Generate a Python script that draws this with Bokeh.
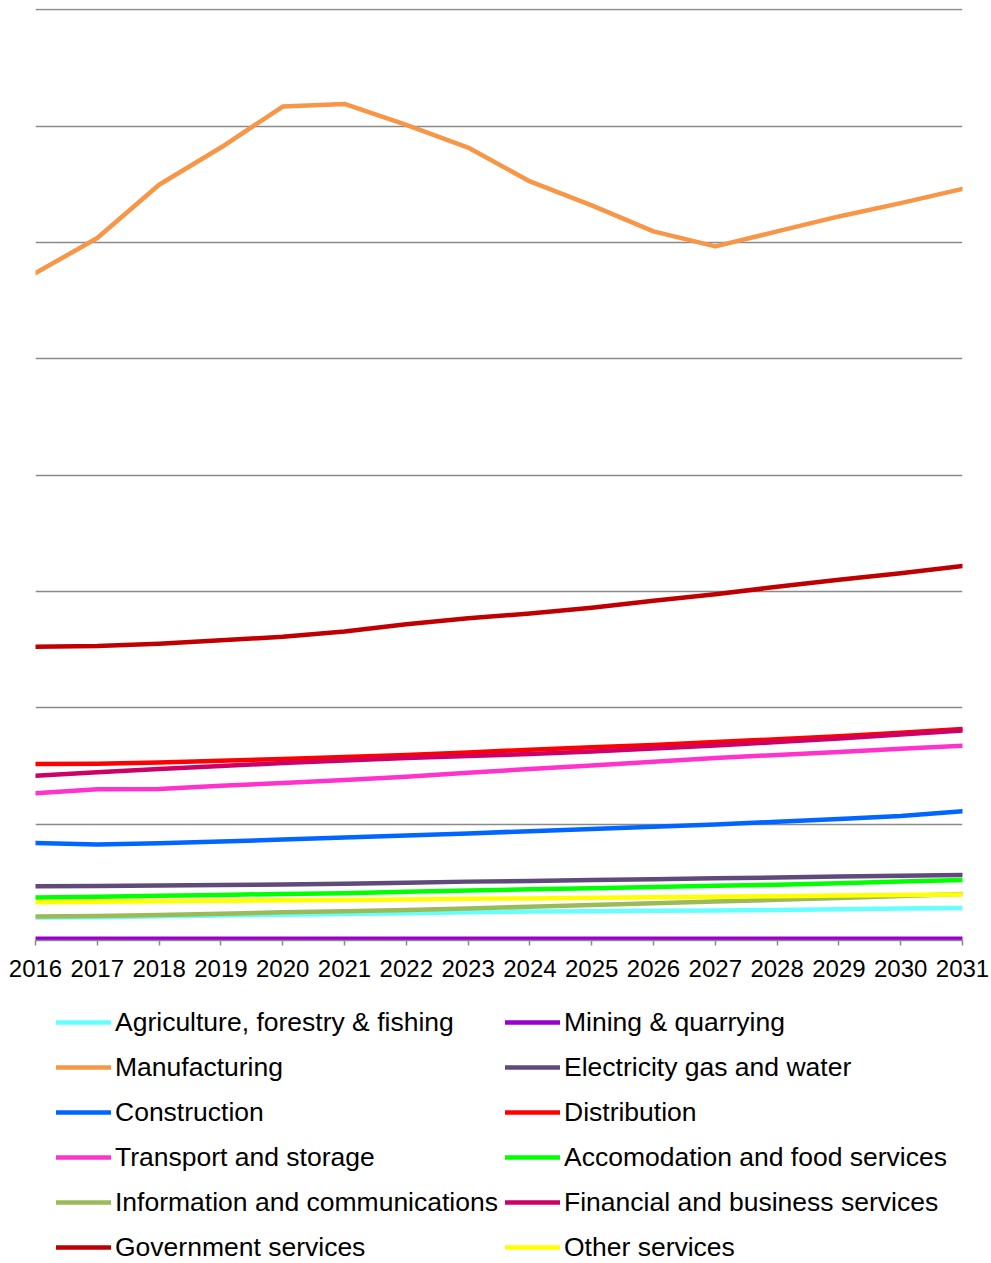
from bokeh.plotting import figure
from bokeh.layouts import column
from bokeh.models import Range1d, Legend, LegendItem, FixedTicker
from bokeh.embed import file_html
from bokeh.resources import INLINE

years = list(range(2016, 2032))

agriculture = [1.97, 2.0, 2.08, 2.15, 2.22, 2.28, 2.34, 2.42, 2.49, 2.52, 2.55, 2.58, 2.62, 2.68, 2.74, 2.8]
mining = [0.14, 0.15, 0.15, 0.15, 0.15, 0.14, 0.14, 0.14, 0.14, 0.14, 0.14, 0.14, 0.14, 0.14, 0.14, 0.14]
manufacturing = [57.36, 60.37, 64.95, 68.15, 71.67, 71.9, 70.1, 68.15, 65.24, 63.18, 60.94, 59.66, 60.94, 62.23, 63.37, 64.6]
electricity = [4.66, 4.68, 4.72, 4.77, 4.82, 4.88, 4.96, 5.06, 5.12, 5.2, 5.27, 5.34, 5.42, 5.5, 5.57, 5.64]
construction = [8.39, 8.24, 8.35, 8.5, 8.68, 8.85, 9.02, 9.2, 9.4, 9.58, 9.78, 9.98, 10.2, 10.45, 10.7, 11.1]
distribution = [15.17, 15.19, 15.3, 15.45, 15.6, 15.77, 15.95, 16.15, 16.4, 16.6, 16.8, 17.05, 17.3, 17.55, 17.85, 18.17]
transport = [12.65, 13.0, 13.02, 13.3, 13.54, 13.8, 14.08, 14.42, 14.74, 15.05, 15.37, 15.68, 15.95, 16.2, 16.47, 16.74]
accommodation = [3.69, 3.76, 3.84, 3.92, 4.0, 4.07, 4.18, 4.29, 4.4, 4.5, 4.6, 4.7, 4.8, 4.93, 5.07, 5.21]
information = [2.06, 2.1, 2.2, 2.3, 2.42, 2.52, 2.62, 2.75, 2.9, 3.05, 3.2, 3.35, 3.5, 3.65, 3.82, 4.0]
financial = [14.16, 14.45, 14.74, 15.0, 15.25, 15.47, 15.68, 15.85, 16.02, 16.25, 16.5, 16.75, 17.05, 17.35, 17.7, 18.05]
government = [25.24, 25.3, 25.5, 25.8, 26.1, 26.55, 27.18, 27.7, 28.1, 28.6, 29.2, 29.76, 30.4, 31.0, 31.56, 32.19]
other = [3.29, 3.33, 3.37, 3.41, 3.45, 3.49, 3.53, 3.58, 3.62, 3.67, 3.72, 3.76, 3.81, 3.86, 3.9, 3.95]

series = [
    ("Agriculture, forestry & fishing", agriculture, "#66FFFF"),
    ("Mining & quarrying", mining, "#9900CC"),
    ("Manufacturing", manufacturing, "#F79646"),
    ("Electricity gas and water", electricity, "#604A7B"),
    ("Construction", construction, "#0066FF"),
    ("Distribution", distribution, "#FF0000"),
    ("Transport and storage", transport, "#FF33CC"),
    ("Accomodation and food services", accommodation, "#00FF00"),
    ("Information and communications", information, "#9BBB59"),
    ("Financial and business services", financial, "#CC0066"),
    ("Government services", government, "#C00000"),
    ("Other services", other, "#FFFF00"),
]

grid_ticks = [0, 10, 20, 30, 40, 50, 60, 70, 80]

# ---- main chart ----
p = figure(width=991, height=990, output_backend="svg", toolbar_location=None,
           x_range=Range1d(2016, 2031), y_range=Range1d(0, 80.1),
           min_border_left=35, min_border_right=29, min_border_top=8,
           min_border_bottom=50)
p.outline_line_color = None
p.background_fill_color = "white"
p.border_fill_color = "white"
p.yaxis.visible = False
p.xgrid.visible = False
p.ygrid[0].ticker = FixedTicker(ticks=grid_ticks)
p.ygrid.grid_line_color = "#8a8a8a"
p.ygrid.grid_line_width = 1.5

ax = p.xaxis[0]
ax.ticker = FixedTicker(ticks=years)
ax.axis_line_color = "#8a8a8a"
ax.axis_line_width = 1.5
ax.major_tick_line_color = "#8a8a8a"
ax.major_tick_line_width = 1.5
ax.major_tick_out = 5
ax.major_tick_in = 0
ax.minor_tick_line_color = None
ax.major_label_text_font = "Liberation Sans"
ax.major_label_text_font_size = "24px"
ax.major_label_text_color = "black"
ax.major_label_standoff = 14

for name, vals, color in series:
    p.line(years, vals, line_color=color, line_width=4.5,
           line_cap="round", line_join="round")

# ---- legend panel (same series, drawn outside its view, used only as legend keys) ----
q = figure(width=991, height=273, output_backend="svg", toolbar_location=None,
           x_range=Range1d(0, 1), y_range=Range1d(0, 1),
           min_border_left=0, min_border_right=0, min_border_top=0,
           min_border_bottom=0)
q.axis.visible = False
q.grid.visible = False
q.outline_line_color = None
q.background_fill_color = "white"
q.border_fill_color = "white"

items = []
for name, vals, color in series:
    r = q.line(years, vals, line_color=color, line_width=4.5,
               line_cap="round", line_join="round")
    items.append(LegendItem(label=name, renderers=[r]))

def make_legend(its, loc):
    return Legend(items=its, location=loc,
                  label_text_font="Liberation Sans", label_text_font_size="26.5px",
                  label_text_color="black", glyph_width=55, glyph_height=32,
                  label_height=32, label_standoff=4, spacing=13,
                  margin=0, padding=0, border_line_color=None,
                  background_fill_alpha=0)

q.add_layout(make_legend(items[0::2], (21, 0)), "center")
q.add_layout(make_legend(items[1::2], (470, 0)), "center")

layout = column(p, q, spacing=0)
open("out.html", "w").write(file_html(layout, INLINE))
